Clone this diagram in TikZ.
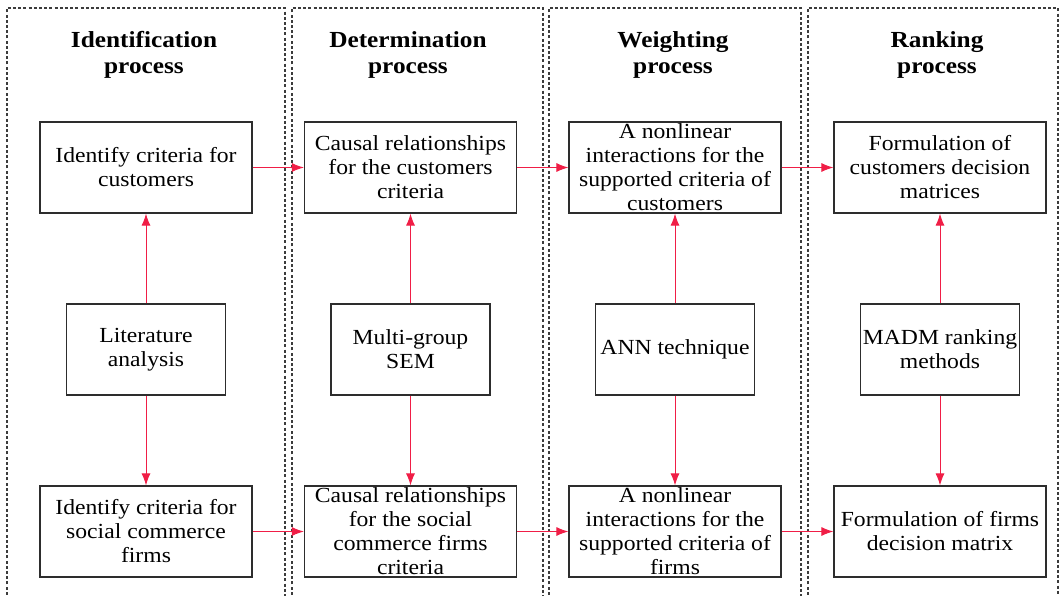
\documentclass[tikz,border=0pt]{standalone}
\usepackage{fontspec}
\setmainfont{Liberation Serif}[FakeStretch=1.1]
\usetikzlibrary{arrows.meta}
\definecolor{arrowred}{RGB}{240,30,70}
\definecolor{boxgray}{RGB}{45,45,45}
\definecolor{dashgray}{RGB}{60,60,60}
\begin{document}
\begin{tikzpicture}[x=1pt,y=-1pt,
  box/.style={draw=boxgray, line width=1.2pt, minimum width=212pt, minimum height=91pt,
    inner sep=0pt, align=center, font=\fontsize{21.5}{24}\selectfont},
  midbox/.style={box, minimum width=159pt},
  head/.style={align=center, inner sep=0pt, font=\bfseries\fontsize{23}{25.5}\selectfont},
  conn/.style={draw=arrowred, line width=1pt, -{Latex[length=12pt,width=9pt]}},
  colframe/.style={draw=dashgray, line width=1.1pt, dash pattern=on 3pt off 2.2pt}]
\useasboundingbox (0,0) rectangle (1060,595);
% column frames
\draw[colframe] (7,600) -- (7,8) -- (285,8) -- (285,600);
\draw[colframe] (292,600) -- (292,8) -- (543,8) -- (543,600);
\draw[colframe] (549,600) -- (549,8) -- (801,8) -- (801,600);
\draw[colframe] (808,600) -- (808,8) -- (1058,8) -- (1058,600);
% headers
\node[head] (h1) at (144,55) {Identification\\process};
\node[head] (h2) at (408,55) {Determination\\process};
\node[head] (h3) at (673,55) {Weighting\\process};
\node[head] (h4) at (937,55) {Ranking\\process};
% top row
\node[box] (idc) at (146,167.5) {Identify criteria for\\customers};
\node[box] (cc) at (410.5,167.5) {Causal relationships\\for the customers\\criteria};
\node[box] (nc) at (675,167.5) {A nonlinear\\interactions for the\\supported criteria of\\customers};
\node[box] (fc) at (940,167.5) {Formulation of\\customers decision\\matrices};
% middle row
\node[midbox] (lit) at (146,349.5) {Literature\\analysis};
\node[midbox] (sem) at (410.5,349.5) {Multi-group\\SEM};
\node[midbox] (ann) at (675,349.5) {ANN technique};
\node[midbox] (madm) at (940,349.5) {MADM ranking\\methods};
% bottom row
\node[box] (idf) at (146,531.5) {Identify criteria for\\social commerce\\firms};
\node[box] (cf) at (410.5,531.5) {Causal relationships\\for the social\\commerce firms\\criteria};
\node[box] (nf) at (675,531.5) {A nonlinear\\interactions for the\\supported criteria of\\firms};
\node[box] (ff) at (940,531.5) {Formulation of firms\\decision matrix};
% vertical connectors
\draw[conn] (lit) -- (idc);
\draw[conn] (lit) -- (idf);
\draw[conn] (sem) -- (cc);
\draw[conn] (sem) -- (cf);
\draw[conn] (ann) -- (nc);
\draw[conn] (ann) -- (nf);
\draw[conn] (madm) -- (fc);
\draw[conn] (madm) -- (ff);
% horizontal connectors
\draw[conn] (idc) -- (cc);
\draw[conn] (cc) -- (nc);
\draw[conn] (nc) -- (fc);
\draw[conn] (idf) -- (cf);
\draw[conn] (cf) -- (nf);
\draw[conn] (nf) -- (ff);
\end{tikzpicture}
\end{document}
